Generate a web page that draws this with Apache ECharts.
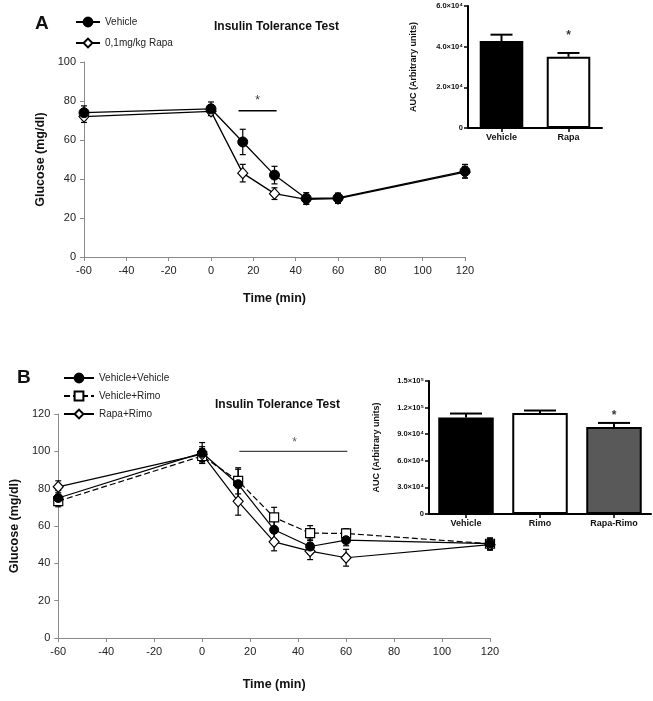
<!DOCTYPE html>
<html>
<head>
<meta charset="utf-8">
<script src="https://cdn.jsdelivr.net/npm/echarts@6/dist/echarts.min.js"></script>
<style>
html,body{margin:0;padding:0;background:#fff;}
#chart{width:653px;height:701px;}
</style>
</head>
<body>
<div id="chart"></div>
<script>
// ---------- DATA ----------
const timePoints = [-60, 0, 15, 30, 45, 60, 120];
const xTickValues = [-60, -40, -20, 0, 20, 40, 60, 80, 100, 120];

// Panel A
const aVehicle    = [74, 76, 59, 42, 30, 30.3, 44];
const aVehicleErr = [3.5, 3.5, 6.5, 4.5, 3, 2.5, 3.5];
const aRapa       = [72, 74.7, 43, 32.5, 29.6, 30, 43.5];
const aRapaErr    = [3, 2, 4.5, 3, 2.5, 2.5, 3];
const aSigLine    = [[13, 75], [31, 75]];
const aSigStar    = [[22, 80]];

const aucACategories = ['Vehicle', 'Rapa'];
const aucAValues     = [42800, 35000];
const aucAErr        = [3100, 1900];
const aucAStar       = [[1, 45500]];
const aucATickValues = [0, 20000, 40000, 60000];
const aucATickLabels = ['0', '2.0×10⁴', '4.0×10⁴', '6.0×10⁴'];

// Panel B
const bVehVeh     = [75, 99.2, 82.4, 58, 49, 52.4, 50.6];
const bVehVehErr  = [4, 5.5, 8, 5, 4, 3, 3];
const bVehRimo    = [73.3, 97.5, 84.2, 64.6, 56.2, 56, 50.5];
const bVehRimoErr = [3, 4, 7, 5.4, 4, 2.5, 3];
const bRapaRimo   = [81, 98.5, 73.2, 51.5, 46.5, 43, 50];
const bRapaRimoErr= [3.2, 4, 7.4, 4.8, 4.5, 4.5, 3];
const bSigLine    = [[15.5, 100], [60.5, 100]];
const bSigStar    = [[38.5, 104.5]];

const aucBCategories = ['Vehicle', 'Rimo', 'Rapa-Rimo'];
const aucBValues     = [108800, 114000, 98200];
const aucBErr        = [4500, 2700, 4500];
const aucBStar       = [[2, 111000]];
const aucBTickValues = [0, 30000, 60000, 90000, 120000, 150000];
const aucBTickLabels = ['0', '3.0×10⁴', '6.0×10⁴', '9.0×10⁴', '1.2×10⁵', '1.5×10⁵'];

// ---------- HELPERS ----------
const FONT = 'Liberation Sans, Arial, sans-serif';
function zip(xs, ys){ return xs.map((x,i)=>[x, ys[i]]); }
function errData(xs, ys, es){ return xs.map((x,i)=>[x, ys[i]-es[i], ys[i]+es[i]]); }
function upErrData(vals, es){ return vals.map((v,i)=>[i, v, v+es[i]]); }
function errRender(capHalf, color){
  return function(params, api){
    const x = api.value(0);
    const p1 = api.coord([x, api.value(1)]);
    const p2 = api.coord([x, api.value(2)]);
    const st = {stroke: color, lineWidth: 1.2};
    return {type:'group', children:[
      {type:'line', shape:{x1:p1[0], y1:p1[1], x2:p2[0], y2:p2[1]}, style:st},
      {type:'line', shape:{x1:p1[0]-capHalf, y1:p1[1], x2:p1[0]+capHalf, y2:p1[1]}, style:st},
      {type:'line', shape:{x1:p2[0]-capHalf, y1:p2[1], x2:p2[0]+capHalf, y2:p2[1]}, style:st}
    ]};
  };
}
function upErrRender(capHalf){
  return function(params, api){
    const p1 = api.coord([api.value(0), api.value(1)]);
    const p2 = api.coord([api.value(0), api.value(2)]);
    const st = {stroke:'#000', lineWidth:2};
    return {type:'group', children:[
      {type:'line', shape:{x1:p1[0], y1:p1[1], x2:p2[0], y2:p2[1]}, style:st},
      {type:'line', shape:{x1:p2[0]-capHalf, y1:p2[1], x2:p2[0]+capHalf, y2:p2[1]}, style:st}
    ]};
  };
}
const lineAxisCommon = {
  axisLine:{show:true, onZero:false, lineStyle:{color:'#8a8a8a', width:1}},
  axisTick:{show:true, inside:false, length:4, lineStyle:{color:'#8a8a8a'}},
  splitLine:{show:false},
  axisLabel:{color:'#222', fontSize:11, fontFamily:FONT},
  nameTextStyle:{color:'#111', fontSize:12.5, fontWeight:'bold', fontFamily:FONT}
};
const insetAxisCommon = {
  axisLine:{show:true, onZero:false, lineStyle:{color:'#000', width:2}},
  axisTick:{show:true, inside:false, length:4, lineStyle:{color:'#000', width:1.5}},
  splitLine:{show:false},
  nameTextStyle:{color:'#111', fontSize:9, fontWeight:'bold', fontFamily:FONT}
};

const circleStyle = {color:'#000', borderColor:'#000', borderWidth:1};
const openStyle = {color:'#fff', borderColor:'#000', borderWidth:1.2};
const barStylesA = ['#000', '#fff'];
const barStylesB = ['#000', '#fff', '#595959'];

const option = {
  animation:false,
  backgroundColor:'#fff',
  title:[
    {text:'A', left:30, top:9, textStyle:{fontSize:19, fontWeight:'bold', color:'#111', fontFamily:FONT}},
    {text:'B', left:12, top:363, textStyle:{fontSize:19, fontWeight:'bold', color:'#111', fontFamily:FONT}},
    {text:'Insulin Tolerance Test', left:209, top:16, textStyle:{fontSize:12, fontWeight:'bold', color:'#111', fontFamily:FONT}},
    {text:'Insulin Tolerance Test', left:210, top:394, textStyle:{fontSize:12, fontWeight:'bold', color:'#111', fontFamily:FONT}}
  ],
  legend:[
    {data:['Vehicle', '0,1mg/kg Rapa'], orient:'vertical', left:70, top:11, itemWidth:24, itemHeight:11, itemGap:9,
     textStyle:{fontSize:10, lineHeight:12, color:'#222', fontFamily:FONT}},
    {data:['Vehicle+Vehicle', 'Vehicle+Rimo', 'Rapa+Rimo'], orient:'vertical', left:58, top:367, itemWidth:30, itemHeight:11, itemGap:6,
     textStyle:{fontSize:10, lineHeight:12, color:'#222', fontFamily:FONT}}
  ],
  grid:[
    {left:84, top:62, width:381, height:195},
    {left:468, top:6, width:134, height:122},
    {left:55, top:414, width:435, height:224},
    {left:429, top:381, width:222, height:133}
  ],
  xAxis:[
    Object.assign({}, lineAxisCommon, {gridIndex:0, type:'value', min:-60, max:120, interval:20,
      name:'Time (min)', nameLocation:'middle', nameGap:35}),
    Object.assign({}, insetAxisCommon, {gridIndex:1, type:'category', data:aucACategories,
      axisTick:{show:true, alignWithLabel:true, length:4, lineStyle:{color:'#000', width:1.5}},
      axisLabel:{color:'#111', fontSize:9, fontWeight:'bold', fontFamily:FONT, margin:5}}),
    Object.assign({}, lineAxisCommon, {gridIndex:2, type:'value', min:-60, max:120, interval:20,
      name:'Time (min)', nameLocation:'middle', nameGap:40}),
    Object.assign({}, insetAxisCommon, {gridIndex:3, type:'category', data:aucBCategories,
      axisTick:{show:true, alignWithLabel:true, length:4, lineStyle:{color:'#000', width:1.5}},
      axisLabel:{color:'#111', fontSize:9, fontWeight:'bold', fontFamily:FONT, margin:5}})
  ],
  yAxis:[
    Object.assign({}, lineAxisCommon, {gridIndex:0, type:'value', min:0, max:100, interval:20,
      name:'Glucose (mg/dl)', nameLocation:'middle', nameGap:36}),
    Object.assign({}, insetAxisCommon, {gridIndex:1, type:'value', min:0, max:60000, interval:20000,
      name:'AUC (Arbitrary units)', nameLocation:'middle', nameGap:50,
      axisLabel:{color:'#111', fontSize:7.5, fontWeight:'bold', fontFamily:FONT, margin:5,
        formatter:(v)=>aucATickLabels[aucATickValues.indexOf(v)]}}),
    Object.assign({}, lineAxisCommon, {gridIndex:2, type:'value', min:0, max:120, interval:20,
      name:'Glucose (mg/dl)', nameLocation:'middle', nameGap:37}),
    Object.assign({}, insetAxisCommon, {gridIndex:3, type:'value', min:0, max:150000, interval:30000,
      name:'AUC (Arbitrary units)', nameLocation:'middle', nameGap:48,
      axisLabel:{color:'#111', fontSize:7.5, fontWeight:'bold', fontFamily:FONT, margin:5,
        formatter:(v)=>aucBTickLabels[aucBTickValues.indexOf(v)]}})
  ],
  series:[
    // Panel A error bars
    {type:'custom', xAxisIndex:0, yAxisIndex:0, z:1, silent:true, encode:{x:0, y:[1,2]},
     data:errData(timePoints, aVehicle, aVehicleErr), renderItem:errRender(3, '#000')},
    {type:'custom', xAxisIndex:0, yAxisIndex:0, z:1, silent:true, encode:{x:0, y:[1,2]},
     data:errData(timePoints, aRapa, aRapaErr), renderItem:errRender(3, '#000')},
    {name:'0,1mg/kg Rapa', type:'line', xAxisIndex:0, yAxisIndex:0, z:3,
     data:zip(timePoints, aRapa), symbol:'diamond', symbolSize:[10,11],
     lineStyle:{color:'#000', width:1.3}, itemStyle:openStyle},
    {name:'Vehicle', type:'line', xAxisIndex:0, yAxisIndex:0, z:4,
     data:zip(timePoints, aVehicle), symbol:'circle', symbolSize:10,
     lineStyle:{color:'#000', width:1.3}, itemStyle:circleStyle},
    {type:'line', xAxisIndex:0, yAxisIndex:0, data:aSigLine, symbol:'none', silent:true,
     lineStyle:{color:'#000', width:1.3}},
    {type:'scatter', xAxisIndex:0, yAxisIndex:0, data:aSigStar, symbolSize:0, silent:true,
     label:{show:true, formatter:'*', position:'inside', fontSize:12, color:'#000', fontFamily:FONT}},

    // Panel A inset
    {type:'bar', xAxisIndex:1, yAxisIndex:1, barWidth:'65%', z:2,
     data:aucAValues.map((v,i)=>({value:v, itemStyle:{color:barStylesA[i], borderColor:'#000', borderWidth:2}}))},
    {type:'custom', xAxisIndex:1, yAxisIndex:1, z:3, silent:true, encode:{x:0, y:[1,2]},
     data:upErrData(aucAValues, aucAErr), renderItem:upErrRender(11)},
    {type:'scatter', xAxisIndex:1, yAxisIndex:1, data:aucAStar, symbolSize:0, silent:true,
     label:{show:true, formatter:'*', position:'inside', fontSize:12, fontWeight:'bold', color:'#000', fontFamily:FONT}},

    // Panel B error bars
    {type:'custom', xAxisIndex:2, yAxisIndex:2, z:1, silent:true, encode:{x:0, y:[1,2]},
     data:errData(timePoints, bVehVeh, bVehVehErr), renderItem:errRender(3, '#000')},
    {type:'custom', xAxisIndex:2, yAxisIndex:2, z:1, silent:true, encode:{x:0, y:[1,2]},
     data:errData(timePoints, bVehRimo, bVehRimoErr), renderItem:errRender(3, '#000')},
    {type:'custom', xAxisIndex:2, yAxisIndex:2, z:1, silent:true, encode:{x:0, y:[1,2]},
     data:errData(timePoints, bRapaRimo, bRapaRimoErr), renderItem:errRender(3, '#000')},
    {name:'Vehicle+Vehicle', type:'line', xAxisIndex:2, yAxisIndex:2, z:4,
     data:zip(timePoints, bVehVeh), symbol:'circle', symbolSize:9,
     lineStyle:{color:'#000', width:1.2}, itemStyle:circleStyle},
    {name:'Vehicle+Rimo', type:'line', xAxisIndex:2, yAxisIndex:2, z:3,
     data:zip(timePoints, bVehRimo), symbol:'rect', symbolSize:9,
     lineStyle:{color:'#000', width:1.2, type:[6,3]}, itemStyle:openStyle},
    {name:'Rapa+Rimo', type:'line', xAxisIndex:2, yAxisIndex:2, z:3,
     data:zip(timePoints, bRapaRimo), symbol:'diamond', symbolSize:[10,11],
     lineStyle:{color:'#000', width:1.2}, itemStyle:openStyle},
    {type:'line', xAxisIndex:2, yAxisIndex:2, data:bSigLine, symbol:'none', silent:true,
     lineStyle:{color:'#444', width:1.3}},
    {type:'scatter', xAxisIndex:2, yAxisIndex:2, data:bSigStar, symbolSize:0, silent:true,
     label:{show:true, formatter:'*', position:'inside', fontSize:12, color:'#333', fontFamily:FONT}},

    // Panel B inset
    {type:'bar', xAxisIndex:3, yAxisIndex:3, barWidth:'75%', z:2,
     data:aucBValues.map((v,i)=>({value:v, itemStyle:{color:barStylesB[i], borderColor:'#000', borderWidth:2}}))},
    {type:'custom', xAxisIndex:3, yAxisIndex:3, z:3, silent:true, encode:{x:0, y:[1,2]},
     data:upErrData(aucBValues, aucBErr), renderItem:upErrRender(16)},
    {type:'scatter', xAxisIndex:3, yAxisIndex:3, data:aucBStar, symbolSize:0, silent:true,
     label:{show:true, formatter:'*', position:'inside', fontSize:12, fontWeight:'bold', color:'#000', fontFamily:FONT}}
  ]
};
const chart = echarts.init(document.getElementById('chart'), null, {renderer:'canvas'});
chart.setOption(option);
</script>
</body>
</html>
